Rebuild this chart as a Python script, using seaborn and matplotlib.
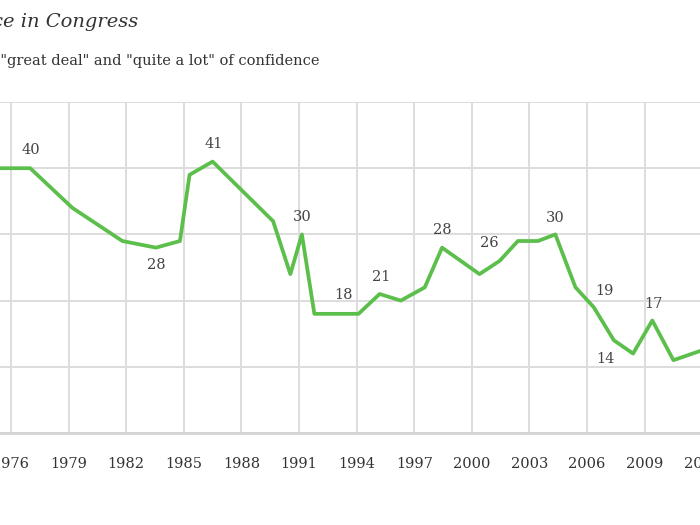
import pandas as pd
import matplotlib.pyplot as plt
import seaborn as sns

# survey dates (decimal years) and % with great deal / quite a lot of confidence
years = [1975.0, 1977.0, 1979.2, 1981.8, 1983.55, 1984.8, 1985.3, 1986.5, 1989.65,
         1990.55, 1991.15, 1991.8, 1993.3, 1994.1, 1995.2, 1996.3, 1997.55, 1998.45,
         2000.4, 2001.45, 2002.4, 2003.45, 2004.35, 2005.4, 2006.35, 2007.4, 2008.4,
         2009.4, 2010.5, 2011.5, 2012.5]
confidence = [40, 40, 34, 29, 28, 29, 39, 41, 32,
              24, 30, 18, 18, 18, 21, 20, 22, 28,
              24, 26, 29, 29, 30, 22, 19, 14, 12,
              17, 11, 12, 13]

# labelled points: (year, value, dx px, dy px)
label_years = [1977.0, 1983.55, 1986.5, 1991.15, 1993.3, 1995.2, 1998.45,
               2001.45, 2004.35, 2006.35, 2007.4, 2009.4]
label_values = [40, 28, 41, 30, 18, 21, 28, 26, 30, 19, 14, 17]
label_dx = [1, 0, 1, 0, 0, 2, 0, -10, 0, 11, -8, 1]
label_dy = [18, -17, 18, 17, 19, 17, 18, 18, 16, 16, -19, 16]

tick_years = list(range(1973, 2016, 3))

df = pd.DataFrame({"Year": years, "Confidence": confidence})

sns.set_style("white")
plt.rcParams["font.family"] = ["DejaVu Serif"]

fig = plt.figure(figsize=(7, 5.25), dpi=100)
# axes run past the figure edges, the chart is a crop of a wider one
ax = fig.add_axes([-60 / 700, 92 / 525, 820 / 700, 331 / 525])

sns.lineplot(data=df, x="Year", y="Confidence", color="#5cbf4b", linewidth=2.7,
             ax=ax, zorder=3)

ax.set_xlim(1972.302, 2015.01)
ax.set_ylim(0, 50)
ax.set_xticks(tick_years)
ax.set_yticks(range(0, 51, 10))
ax.set_yticklabels([])
ax.grid(True, color="#dddddd", linewidth=1.4)
ax.set_axisbelow(True)
for s in ["top", "left", "right"]:
    ax.spines[s].set_visible(False)
ax.spines["bottom"].set_color("#d4d4d4")
ax.spines["bottom"].set_linewidth(2)
ax.tick_params(axis="x", length=0, pad=17, labelsize=10.5, labelcolor="#333333")
ax.tick_params(axis="y", length=0)
ax.set_xlabel("")
ax.set_ylabel("")

for x, v, dx, dy in zip(label_years, label_values, label_dx, label_dy):
    ax.annotate(str(v), (x, v), xytext=(dx, dy), textcoords="offset pixels",
                ha="center", va="center", fontsize=10.5, color="#444444")

fig.text(138 / 700, 1 - 27 / 525, "Confidence in Congress", ha="right",
         va="baseline", fontsize=14, style="italic", color="#333333")
fig.text(319 / 700, 1 - 65 / 525, '% "great deal" and "quite a lot" of confidence',
         ha="right", va="baseline", fontsize=10.5, color="#333333")

fig.savefig("out.png", dpi=100)
